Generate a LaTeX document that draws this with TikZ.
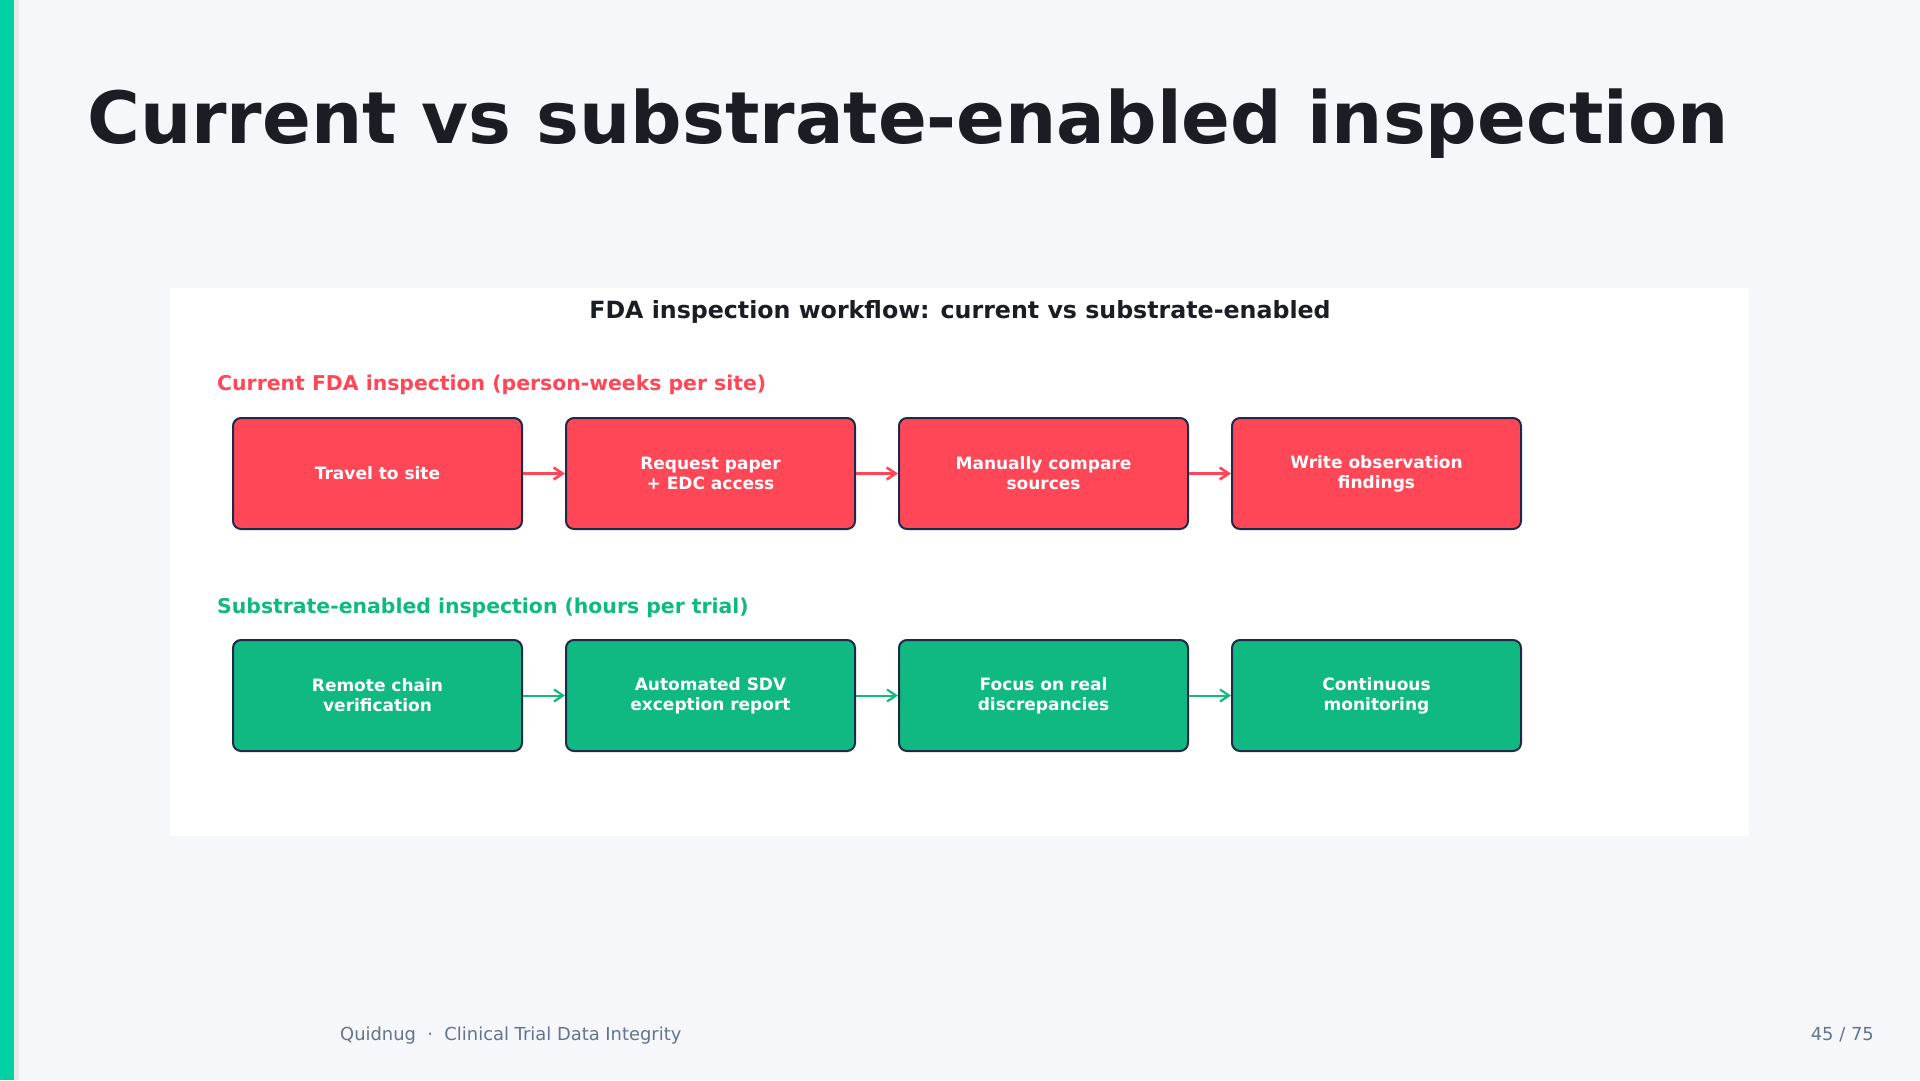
\documentclass[tikz,border=0pt]{standalone}
\usepackage{fontspec}
\setmainfont{DejaVu Sans}
\usetikzlibrary{arrows.meta}
\definecolor{bgc}{HTML}{F5F7FA}
\definecolor{barc}{HTML}{00D1A3}
\definecolor{titlec}{HTML}{1A1D24}
\definecolor{redc}{HTML}{FF4757}
\definecolor{greenc}{HTML}{10B981}
\definecolor{edgec}{HTML}{1E2A4A}
\definecolor{footc}{HTML}{64748B}
\tikzset{
  flowbox/.style={draw=edgec, line width=2pt, rounded corners=8pt, minimum width=289pt, minimum height=111pt, inner sep=0pt, text=white, align=center, font=\bfseries\fontsize{17}{20}\selectfont},
  redbox/.style={flowbox, fill=redc},
  greenbox/.style={flowbox, fill=greenc},
  redarrow/.style={draw=redc, line width=2.6pt, -{Straight Barb[length=9pt,width=12pt,line width=2.6pt]}},
  greenarrow/.style={draw=greenc, line width=2pt, -{Straight Barb[length=9pt,width=12pt,line width=2.2pt]}},
}
\begin{document}
\begin{tikzpicture}[x=1pt,y=-1pt]
\useasboundingbox (0,0) rectangle (1920,1080);
\fill[bgc] (0,0) rectangle (1920,1080);
\fill[black, opacity=0.06] (14,0) rectangle (19,1080);
\fill[barc] (0,0) rectangle (14,1080);
\node[anchor=base west, inner sep=0pt, text=titlec, font=\bfseries\fontsize{72}{86}\selectfont] (title) at (87,143) {Current vs substrate-enabled inspection};
\fill[white] (170,288) rectangle (1749,836);
\node[anchor=base, inner sep=0pt, text=titlec, font=\bfseries\fontsize{23.7}{28}\selectfont] (ptitle) at (960,318.5) {FDA inspection workflow: current vs substrate-enabled};
\node[anchor=base west, inner sep=0pt, text=redc, font=\bfseries\fontsize{20.4}{24}\selectfont] (curlabel) at (217,390) {Current FDA inspection (person-weeks per site)};
\node[anchor=base west, inner sep=0pt, text=greenc, font=\bfseries\fontsize{20.4}{24}\selectfont] (sublabel) at (217,613) {Substrate-enabled inspection (hours per trial)};
\node[redbox] (r1) at (377.5,473.5) {Travel to site};
\node[redbox] (r2) at (710.5,473.5) {Request paper\\+ EDC access};
\node[redbox] (r3) at (1043.5,473.5) {Manually compare\\sources};
\node[redbox] (r4) at (1376.5,473.5) {Write observation\\findings};
\node[greenbox] (g1) at (377.5,695.5) {Remote chain\\verification};
\node[greenbox] (g2) at (710.5,695.5) {Automated SDV\\exception report};
\node[greenbox] (g3) at (1043.5,695.5) {Focus on real\\discrepancies};
\node[greenbox] (g4) at (1376.5,695.5) {Continuous\\monitoring};
\draw[redarrow] (r1) -- (r2);
\draw[redarrow] (r2) -- (r3);
\draw[redarrow] (r3) -- (r4);
\draw[greenarrow] (g1) -- (g2);
\draw[greenarrow] (g2) -- (g3);
\draw[greenarrow] (g3) -- (g4);
\node[anchor=base west, inner sep=0pt, text=footc, font=\fontsize{17.9}{21}\selectfont] (foot) at (340,1040) {Quidnug\ \ ·\ \ Clinical Trial Data Integrity};
\node[anchor=base east, inner sep=0pt, text=footc, font=\fontsize{17.9}{21}\selectfont] (page) at (1874,1040) {45 / 75};
\end{tikzpicture}
\end{document}
